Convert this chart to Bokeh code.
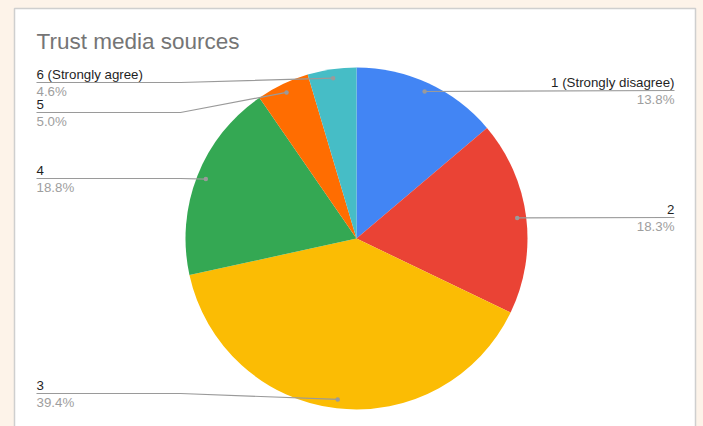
import numpy as np
from bokeh.plotting import figure
from bokeh.models import Range1d, GlobalInlineStyleSheet
from bokeh.core.properties import value
from bokeh.embed import file_html
from bokeh.resources import INLINE

# ---- data ----
title = "Trust media sources"
categories = ["1 (Strongly disagree)", "2", "3", "4", "5", "6 (Strongly agree)"]
shares = [13.8, 18.3, 39.4, 18.8, 5.0, 4.6]
colors = ["#4285f4", "#ea4335", "#fbbc04", "#34a853", "#ff6d01", "#46bdc6"]

# ---- layout (page pixel coordinates) ----
W, H = 703, 426
def px(x): return x
def py(y): return H - y

cx, cy, R = px(356), py(238), 171
dot_r = 162
label_side = ["right", "right", "left", "left", "left", "left"]
label_line_y = [90, 217, 393, 178, 112, 82]
right_x, left_x, elbow_x = 674, 36, 180

FONT = "Liberation Sans"
BG = "#fdf3e9"

p = figure(width=W, height=H, output_backend="svg", toolbar_location=None,
           x_range=Range1d(0, W), y_range=Range1d(0, H),
           x_axis_type=None, y_axis_type=None, min_border=0,
           background_fill_color=BG, border_fill_color=BG,
           outline_line_color=None,
           stylesheets=[GlobalInlineStyleSheet(
               css=f"html,body{{margin:0;padding:0;background:{BG};overflow:hidden;}}")])
p.grid.visible = False

# white chart panel
p.quad(left=[px(14)], right=[px(695)], top=[py(8)], bottom=[-10],
       fill_color="white", line_color="#cfcfcf", line_width=1.5)

# wedges
total = float(sum(shares))
frac = np.array(shares) / total
cum = np.concatenate([[0], np.cumsum(frac)])
start = np.pi / 2 - 2 * np.pi * cum[:-1]
end = np.pi / 2 - 2 * np.pi * cum[1:]
p.wedge(x=cx, y=cy, radius=R, start_angle=start, end_angle=end,
        direction="clock", fill_color=colors, line_color=None)

# leader lines, dots, labels
mid = np.pi / 2 - 2 * np.pi * (cum[:-1] + cum[1:]) / 2
dxs = cx + dot_r * np.cos(mid)
dys = cy + dot_r * np.sin(mid)
xs_list, ys_list = [], []
for i in range(len(shares)):
    ly = py(label_line_y[i])
    if label_side[i] == "right":
        xs_list.append([dxs[i], px(right_x)])
        ys_list.append([dys[i], ly])
    else:
        xs_list.append([dxs[i], px(elbow_x), px(left_x)])
        ys_list.append([dys[i], ly, ly])
p.multi_line(xs=xs_list, ys=ys_list, line_color="#9a9a9a", line_width=1.2)
p.scatter(x=dxs, y=dys, size=4.5, fill_color="#9a9a9a", line_color=None)

for side in ["right", "left"]:
    idx = [i for i in range(len(shares)) if label_side[i] == side]
    tx = [px(right_x) if side == "right" else px(left_x)] * len(idx)
    align = "right" if side == "right" else "left"
    p.text(x=tx, y=[py(label_line_y[i]) + 8.5 for i in idx],
           text=[categories[i] for i in idx], text_align=align,
           text_baseline="middle", text_font=value(FONT),
           text_font_size="13.3px", text_color="#1f1f1f")
    p.text(x=tx, y=[py(label_line_y[i]) - 8.5 for i in idx],
           text=[f"{shares[i]:.1f}%" for i in idx], text_align=align,
           text_baseline="middle", text_font=value(FONT),
           text_font_size="13.3px", text_color="#9e9e9e")

# title
p.text(x=[px(36)], y=[py(41)], text=[title], text_align="left",
       text_baseline="middle", text_font=value(FONT),
       text_font_size="22.5px", text_color="#757575")

open("out.html", "w").write(file_html(p, INLINE))
